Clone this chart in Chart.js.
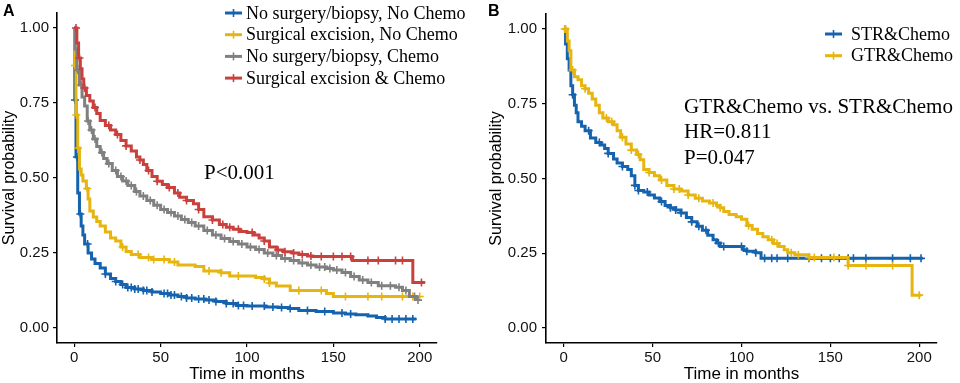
<!DOCTYPE html>
<html>
<head>
<meta charset="utf-8">
<script src="https://cdn.jsdelivr.net/npm/chart.js@4.4.0/dist/chart.umd.min.js"></script>
<style>
  body { margin: 0; background: #fff; }
  .panel { position: absolute; top: 0; width: 480px; height: 383px; }
</style>
</head>
<body>
<div class="panel" style="left:0"><canvas id="chartA" width="480" height="383"></canvas></div>
<div class="panel" style="left:480px"><canvas id="chartB" width="480" height="383"></canvas></div>
<script>
// -------------------------
// SHARED AXIS TICKS
// -------------------------
const xTicks = [0, 50, 100, 150, 200];
const yTicks = [0, 0.25, 0.5, 0.75, 1];

// -------------------------
// PANEL A DATA (time in months / survival / censor times)
// -------------------------
const labelsA = [
  "No surgery/biopsy, No Chemo",
  "Surgical excision, No Chemo",
  "No surgery/biopsy, Chemo",
  "Surgical excision & Chemo"
];

const timeNoSurgNoChemo = [0.3,1,2,3,4,5,6,8,10,12, 15,18,21,24,27,30,35,40,45,50, 55,60,65,70,76,82,88,94,100,111, 118,124,130,140,150,157,163,170,175,180, 198];
const survNoSurgNoChemo = [0.76,0.57,0.45,0.38,0.34,0.31,0.28,0.25,0.23,0.215, 0.20,0.18,0.165,0.155,0.145,0.135,0.13,0.125,0.12,0.115, 0.11,0.105,0.10,0.097,0.093,0.088,0.082,0.075,0.073,0.07, 0.068,0.065,0.058,0.055,0.05,0.047,0.044,0.04,0.035,0.03, 0.03];
const censNoSurgNoChemo = [0.4,1.5,3.5,7.7,18,24,28,31,33,35,37,40,42,45,52,54,56,58,62,65,68,72,75,78,82,88,92,95,98,103,110,115,120,125,135,145,155,160,180,184,188,192,196];

const timeSurgNoChemo = [0.3,1,2,3,4,5,7,8,9,11, 13,15,18,21,24,27,30,33,38,45, 55,60,70,75,85,90,105,110,113,117, 125,146,150,200];
const survSurgNoChemo = [0.875,0.71,0.60,0.53,0.51,0.49,0.465,0.43,0.39,0.37, 0.355,0.34,0.32,0.30,0.29,0.27,0.255,0.245,0.235,0.228, 0.22,0.21,0.205,0.19,0.184,0.173,0.168,0.163,0.15,0.14, 0.125,0.115,0.105,0.105];
const censSurgNoChemo = [0.4,1.2,2.2,7.5,28,37,43,46,52,58,78,85,95,110,113,130,143,157,170,178,190,196,200];

const timeNoSurgChemo = [0.5,1.5,3,4.5,6,7.5,9,11,13,15, 17,19,22,25,28,31,35,38,42,46, 50,54,58,62,66,70,75,80,85,90, 95,100,105,110,115,120,125,130,135,140, 146,150,155,160,165,170,176,186,190,194, 198];
const survNoSurgChemo = [0.93,0.86,0.81,0.77,0.74,0.69,0.66,0.63,0.605,0.585, 0.565,0.548,0.525,0.505,0.49,0.475,0.455,0.44,0.425,0.409, 0.395,0.385,0.373,0.362,0.352,0.34,0.325,0.31,0.298,0.288, 0.28,0.27,0.262,0.25,0.242,0.232,0.225,0.217,0.21,0.203, 0.198,0.193,0.185,0.172,0.16,0.152,0.141,0.136,0.125,0.105, 0.093];
const censNoSurgChemo = [2,4,8,10,12,16,20,24,27,30,33,36,40,44,48,52,56,60,64,68,72,77,82,87,92,97,102,107,112,117,122,127,132,137,142,145,148,152,157,162,167,172,178,183,188,192,197,199];

const timeSurgChemo = [1.5,2.5,3.5,4.5,5.5,7,9,11,13,15, 18,21,24,27,30,33,36,38,40,42, 45,48,51,54,58,61,65,69,72,75, 80,84,88,92,96,100,104,107,110,113, 117,121,126,130,135,138,161,196,203];
const survSurgChemo = [0.95,0.9,0.864,0.83,0.80,0.775,0.757,0.735,0.715,0.692, 0.675,0.66,0.645,0.625,0.607,0.59,0.57,0.56,0.545,0.525, 0.505,0.489,0.478,0.468,0.45,0.436,0.425,0.414,0.395,0.371, 0.36,0.345,0.336,0.329,0.322,0.318,0.31,0.30,0.29,0.27, 0.26,0.254,0.25,0.245,0.24,0.238,0.225,0.152,0.152];
const censSurgChemo = [1,3,6,12,20,25,30,38,43,48,55,60,65,72,80,86,90,95,103,110,118,122,127,132,137,143,150,155,160,170,176,186,190,201];

// -------------------------
// PANEL B DATA
// -------------------------
const labelsB = ["STR&Chemo", "GTR&Chemo"];

const timeSTR = [1,2,3,4,5,6,7,8,10,12, 15,18,21,23,25,28,30,33,36,38, 40,42,45,48,51,54,57,60,63,66, 69,72,75,78,81,84,86,88,101,103, 108,111,202];
const survSTR = [0.95,0.9,0.863,0.81,0.78,0.745,0.72,0.69,0.675,0.66, 0.635,0.62,0.612,0.60,0.584,0.565,0.552,0.54,0.53,0.509, 0.477,0.46,0.455,0.445,0.435,0.423,0.41,0.402,0.395,0.385, 0.37,0.355,0.34,0.327,0.31,0.295,0.284,0.273,0.262,0.257, 0.252,0.233,0.233];
const censSTR = [5,14,20,25,33,40,42,47,55,60,63,66,72,76,80,87,90,100,103,108,113,117,120,126,138,145,150,155,160,163,170,185,195,201];

const timeGTR = [2,3,4,6,8,10,12,14,16,18, 20,22,25,28,30,32,35,38,41,43, 45,48,51,54,58,62,66,70,74,78, 82,86,88,90,93,97,100,103,106,109, 112,115,118,121,124,126,130,138,160,196, 201];
const survGTR = [0.96,0.927,0.863,0.84,0.83,0.81,0.80,0.785,0.766,0.745, 0.72,0.702,0.69,0.68,0.66,0.638,0.615,0.595,0.58,0.563, 0.53,0.52,0.509,0.495,0.477,0.465,0.458,0.445,0.434,0.425, 0.418,0.41,0.402,0.39,0.38,0.372,0.364,0.343,0.33,0.316, 0.305,0.295,0.283,0.273,0.262,0.252,0.245,0.236,0.209,0.11, 0.11];
const censGTR = [0.5,1,5,12,24,27,33,38,42,48,55,62,65,70,76,84,88,104,117,120,128,132,138,141,152,160,170,185,200];

// -------------------------
// COLOURS
// -------------------------
const BLUE = "#1563ae";
const YELLOW = "#e6b50f";
const GRAY = "#808080";
const RED = "#c9403d";

const SANS = "'Liberation Sans', Arial, sans-serif";
const SERIF = "'Liberation Serif', 'Times New Roman', serif";

// -------------------------
// KM HELPERS
// -------------------------
function stepPoints(times, surv) {
  const pts = [{ x: 0, y: 1 }];
  times.forEach((t, i) => pts.push({ x: t, y: surv[i] }));
  return pts;
}

function survAt(times, surv, c) {
  let s = 1;
  for (let i = 0; i < times.length; i++) {
    if (times[i] <= c) s = surv[i];
  }
  return s;
}

function curveSets(label, color, times, surv, cens, order) {
  return [
    {
      label: label,
      data: stepPoints(times, surv),
      borderColor: color,
      backgroundColor: color,
      borderWidth: 3,
      stepped: "before",
      pointRadius: 0,
      fill: false,
      order: order,
      isCurve: true
    },
    {
      label: label + " censored",
      data: cens.map(c => ({ x: c, y: survAt(times, surv, c) })),
      showLine: false,
      pointStyle: "cross",
      pointRadius: 4,
      pointBorderWidth: 1.6,
      borderColor: color,
      backgroundColor: color,
      order: order
    }
  ];
}

// -------------------------
// LEGEND + TEXT PLUGIN
// -------------------------
const kmText = {
  id: "kmText",
  afterDraw(chart, args, opts) {
    const ctx = chart.ctx;
    ctx.save();

    // panel letter
    ctx.fillStyle = "#000";
    ctx.font = "bold 16px " + SANS;
    ctx.textBaseline = "middle";
    ctx.textAlign = "left";
    ctx.fillText(opts.letter, opts.letterX, 12);

    // legend
    const curves = chart.data.datasets.filter(d => d.isCurve);
    ctx.font = "18px " + SERIF;
    curves.forEach((d, i) => {
      const y = opts.legendY + i * opts.legendGap;
      const x0 = opts.legendX;
      ctx.strokeStyle = d.borderColor;
      ctx.lineWidth = 3;
      ctx.beginPath();
      ctx.moveTo(x0, y);
      ctx.lineTo(x0 + 17, y);
      ctx.stroke();
      ctx.lineWidth = 1.6;
      ctx.beginPath();
      ctx.moveTo(x0 + 8.5, y - 4);
      ctx.lineTo(x0 + 8.5, y + 4);
      ctx.stroke();
      ctx.fillStyle = "#000";
      ctx.fillText(d.label, x0 + opts.legendTextOff, y + 1);
    });

    // annotation
    ctx.font = "21px " + SERIF;
    opts.note.forEach((line, i) => {
      ctx.fillText(line, opts.noteX, opts.noteY + i * 25.5);
    });
    ctx.restore();
  }
};

// -------------------------
// CHART BUILDER
// -------------------------
function buildChart(id, datasets, layout, textOpts) {
  const ctx = document.getElementById(id).getContext("2d");
  return new Chart(ctx, {
    type: "line",
    data: { datasets: datasets },
    options: {
      responsive: false,
      animation: false,
      events: [],
      layout: { padding: { top: 2, right: layout.right, left: 0, bottom: 0 } },
      plugins: {
        legend: { display: false },
        tooltip: { enabled: false },
        kmText: textOpts
      },
      scales: {
        x: {
          type: "linear",
          min: -10,
          max: 210,
          afterBuildTicks: s => { s.ticks = xTicks.map(v => ({ value: v })); },
          afterFit: s => { s.height = 40; },
          grid: { drawOnChartArea: false, drawTicks: true, tickLength: 4, color: "#000", lineWidth: 1.2 },
          border: { display: true, color: "#000", width: 1.6 },
          ticks: { color: "#111", font: { family: SANS, size: 15 }, padding: 2, maxRotation: 0 },
          title: {
            display: true,
            text: "Time in months",
            color: "#000",
            font: { family: SANS, size: 17, lineHeight: 1 },
            padding: { top: 0, bottom: 0 }
          }
        },
        y: {
          type: "linear",
          min: -0.05,
          max: 1.05,
          afterBuildTicks: s => { s.ticks = yTicks.map(v => ({ value: v })); },
          afterFit: s => { s.width = layout.yWidth; },
          grid: { drawOnChartArea: false, drawTicks: true, tickLength: 4, color: "#000", lineWidth: 1.2 },
          border: { display: true, color: "#000", width: 1.6 },
          ticks: {
            color: "#111",
            font: { family: SANS, size: 15 },
            padding: layout.yPad,
            callback: v => v.toFixed(2)
          },
          title: {
            display: true,
            text: "Survival probability",
            color: "#000",
            font: { family: SANS, size: 16, lineHeight: 1.2 },
            padding: { top: layout.yTitlePad, bottom: 0 }
          }
        }
      }
    },
    plugins: [kmText]
  });
}

// -------------------------
// INIT
// -------------------------
const setsA = [].concat(
  curveSets(labelsA[3], RED, timeSurgChemo, survSurgChemo, censSurgChemo, 1),
  curveSets(labelsA[2], GRAY, timeNoSurgChemo, survNoSurgChemo, censNoSurgChemo, 2),
  curveSets(labelsA[1], YELLOW, timeSurgNoChemo, survSurgNoChemo, censSurgNoChemo, 3),
  curveSets(labelsA[0], BLUE, timeNoSurgNoChemo, survNoSurgNoChemo, censNoSurgNoChemo, 4)
).reverse();
// keep legend order blue, yellow, gray, red
setsA.sort((a, b) => b.order - a.order || (a.isCurve ? -1 : 1));

buildChart("chartA", setsA,
  { right: 43, yWidth: 57, yPad: 4, yTitlePad: 0 },
  {
    letter: "A", letterX: 3,
    legendX: 225, legendY: 13, legendGap: 21.7, legendTextOff: 21,
    note: ["P<0.001"], noteX: 204, noteY: 173
  });

const setsB = [].concat(
  curveSets(labelsB[0], BLUE, timeSTR, survSTR, censSTR, 2),
  curveSets(labelsB[1], YELLOW, timeGTR, survGTR, censGTR, 1)
);

buildChart("chartB", setsB,
  { right: 23, yWidth: 66, yPad: 5, yTitlePad: 7 },
  {
    letter: "B", letterX: 8,
    legendX: 345, legendY: 34, legendGap: 21.7, legendTextOff: 26,
    note: ["GTR&Chemo vs. STR&Chemo", "HR=0.811", "P=0.047"], noteX: 204, noteY: 107
  });
</script>
</body>
</html>
